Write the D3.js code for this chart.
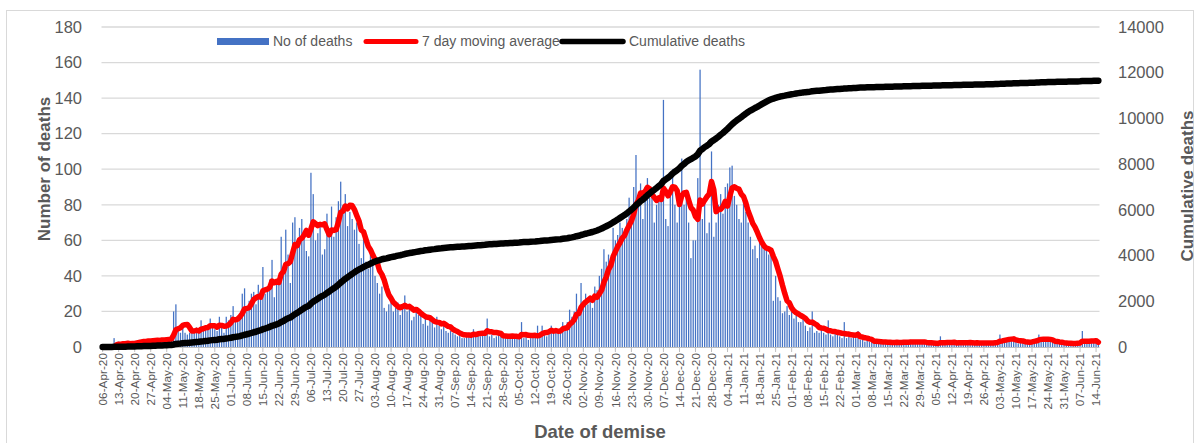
<!DOCTYPE html>
<html>
<head>
<meta charset="utf-8">
<script src="https://cdn.jsdelivr.net/npm/d3@7"></script>
<style>
  body { margin: 0; background: #fff; }
  text { font-family: "Liberation Sans", Arial, sans-serif; fill: #595959; }
</style>
</head>
<body>
<script>
  var w = 1199; //svg width
  var h = 443; //svg height

  //DATA
  var firstDay = new Date(2020, 3, 6); //06-Apr-20
  var lastDay = new Date(2021, 5, 15); //15-Jun-21
  var dates = d3.timeDay.range(firstDay, d3.timeDay.offset(lastDay, 1));

  //daily deaths, one line per week (weeks start on Monday)
  var deaths = [
      0, 1, 0, 1, 0, 5, 1,          //06-Apr-20
      3, 1, 2, 1, 2, 3, 2,
      3, 3, 4, 3, 4, 3, 4,
      3, 4, 5, 4, 3, 5, 4,
      4, 5, 6, 20, 24, 9, 8,        //04-May-20
      13, 8, 7, 8, 10, 9, 11,
      10, 15, 9, 12, 11, 16, 11,
      10, 9, 17, 11, 8, 17, 15,
      18, 23, 15, 14, 17, 30, 33,   //01-Jun-20
      20, 26, 30, 31, 24, 35, 30,
      45, 30, 33, 38, 49, 28, 36,
      40, 62, 44, 66, 52, 36, 70,
      73, 58, 67, 72, 65, 54, 51,   //29-Jun-20
      98, 86, 60, 64, 70, 52, 55,
      75, 66, 79, 62, 73, 82, 93,
      80, 86, 68, 76, 72, 66, 70,
      58, 50, 61, 48, 44, 52, 50,   //27-Jul-20
      40, 36, 30, 34, 22, 20, 24,
      26, 20, 22, 25, 18, 24, 29,
      20, 22, 15, 17, 21, 18, 20,
      13, 16, 12, 15, 14, 11, 17,   //24-Aug-20
      12, 10, 14, 9, 8, 9, 8,
      7, 6, 8, 5, 5, 8, 8,
      6, 10, 7, 8, 6, 9, 8,
      16, 6, 7, 5, 6, 7, 6,         //21-Sep-20
      7, 5, 6, 5, 7, 6, 6,
      5, 14, 5, 6, 4, 5, 6,
      6, 12, 7, 12, 8, 6, 9,
      12, 8, 10, 9, 9, 14, 12,      //19-Oct-20
      14, 21, 17, 20, 30, 18, 36,
      26, 30, 24, 28, 22, 34, 32,
      40, 44, 55, 48, 52, 50, 67,
      60, 63, 70, 67, 62, 72, 84,   //16-Nov-20
      78, 90, 108, 82, 92, 72, 90,
      95, 84, 86, 70, 80, 82, 84,
      139, 72, 68, 86, 100, 80, 70,
      85, 106, 80, 88, 70, 50, 60,  //14-Dec-20
      60, 95, 156, 72, 85, 64, 70,
      110, 62, 70, 80, 86, 75, 90,
      92, 101, 102, 85, 80, 72, 70,
      82, 76, 70, 62, 55, 57, 50,   //11-Jan-21
      60, 58, 55, 54, 52, 52, 26,
      40, 28, 26, 19, 20, 23, 18,
      20, 16, 19, 14, 14, 18, 12,
      9, 11, 20, 8, 9, 8, 10,       //08-Feb-21
      8, 7, 15, 7, 6, 8, 7,
      6, 5, 14, 5, 6, 5, 6,
      5, 9, 4, 4, 3, 4, 3,
      3, 2, 4, 3, 2, 3, 3,          //08-Mar-21
      2, 2, 3, 3, 3, 2, 3,
      3, 2, 3, 4, 3, 2, 3,
      3, 2, 3, 2, 2, 2, 2,
      2, 1, 6, 2, 2, 3, 2,          //05-Apr-21
      2, 2, 3, 3, 2, 3, 2,
      2, 3, 2, 2, 3, 2, 2,
      2, 3, 2, 2, 3, 3, 3,
      7, 4, 4, 4, 5, 4, 4,          //03-May-21
      3, 2, 3, 3, 2, 3, 3,
      4, 4, 5, 7, 4, 4, 3,
      4, 3, 3, 2, 3, 2, 2,
      2, 2, 2, 2, 2, 2, 3,          //31-May-21
      3, 9, 2, 2, 2, 3, 3,
      4, 3
  ];

  var leftTicks = [0, 20, 40, 60, 80, 100, 120, 140, 160, 180];
  var rightTicks = [0, 2000, 4000, 6000, 8000, 10000, 12000, 14000];
  var seriesNames = ["No of deaths", "7 day moving average", "Cumulative deaths"];
  var labelEvery = 7; //one date label per week

  //derived series
  var movingAvg = deaths.map(function(d, i) {
      return i < 6 ? null : d3.mean(deaths.slice(i - 6, i + 1));
  });
  var cumulative = Array.from(d3.cumsum(deaths));

  var fmt = d3.timeFormat("%d-%b-%y");

  //SCALES
  var x = d3.scaleBand()
      .domain(d3.range(dates.length))
      .range([101.5, 1099.5])
      .paddingInner(0.45)
      .paddingOuter(0.225);

  var xc = function(i) { return x(i) + x.bandwidth() / 2; };

  var yL = d3.scaleLinear().domain([0, 180]).range([347, 27]);
  var yR = d3.scaleLinear().domain([0, 14000]).range([347, 27]);

  var svg = d3.select("body")
      .append("svg")
      .attr("width", w)
      .attr("height", h);

  //chart frame
  svg.append("rect")
      .attr("x", 6.5).attr("y", 10.5)
      .attr("width", 1187).attr("height", 440)
      .attr("fill", "none")
      .attr("stroke", "#d9d9d9");

  //GRIDLINES
  svg.append("g")
      .selectAll("line")
      .data(leftTicks.slice(1))
      .enter()
      .append("line")
      .attr("x1", 101.5).attr("x2", 1099.5)
      .attr("y1", function(d) { return yL(d); })
      .attr("y2", function(d) { return yL(d); })
      .attr("stroke", "#d9d9d9")
      .attr("stroke-width", 1.3);

  //BARS
  svg.append("g")
      .selectAll("rect")
      .data(deaths)
      .enter()
      .append("rect")
      .attr("x", function(d, i) { return x(i); })
      .attr("y", function(d) { return yL(d); })
      .attr("width", x.bandwidth())
      .attr("height", function(d) { return yL(0) - yL(d); })
      .attr("fill", "#4472c4");

  //X AXIS
  var tickIdx = d3.range(0, dates.length, labelEvery).filter(function(i) { return i < dates.length - 1; });

  svg.append("line")
      .attr("x1", 101.5).attr("x2", 1099.5)
      .attr("y1", 347.5).attr("y2", 347.5)
      .attr("stroke", "#bfbfbf");

  svg.append("g")
      .selectAll("line")
      .data(tickIdx)
      .enter()
      .append("line")
      .attr("x1", function(i) { return xc(i); })
      .attr("x2", function(i) { return xc(i); })
      .attr("y1", 347).attr("y2", 352)
      .attr("stroke", "#bfbfbf");

  svg.append("g")
      .selectAll("text")
      .data(tickIdx)
      .enter()
      .append("text")
      .attr("transform", function(i) { return "translate(" + xc(i) + ",353) rotate(-90)"; })
      .attr("text-anchor", "end")
      .attr("dy", "0.35em")
      .style("font-size", "11.8px")
      .text(function(i) { return fmt(dates[i]); });

  //Y AXES LABELS
  svg.append("g")
      .selectAll("text")
      .data(leftTicks)
      .enter()
      .append("text")
      .attr("x", 82)
      .attr("y", function(d) { return yL(d); })
      .attr("dy", "0.35em")
      .attr("text-anchor", "end")
      .style("font-size", "16.5px")
      .text(function(d) { return d; });

  svg.append("g")
      .selectAll("text")
      .data(rightTicks)
      .enter()
      .append("text")
      .attr("x", 1118)
      .attr("y", function(d) { return yR(d); })
      .attr("dy", "0.35em")
      .attr("text-anchor", "start")
      .style("font-size", "16.5px")
      .text(function(d) { return d; });

  //LINES
  var maLine = d3.line()
      .defined(function(d) { return d !== null; })
      .x(function(d, i) { return xc(i); })
      .y(function(d) { return yL(d); });

  svg.append("path")
      .datum(movingAvg)
      .attr("d", maLine)
      .attr("fill", "none")
      .attr("stroke", "#ff0000")
      .attr("stroke-width", 5.5)
      .attr("stroke-linejoin", "round")
      .attr("stroke-linecap", "round");

  var cumLine = d3.line()
      .x(function(d, i) { return xc(i); })
      .y(function(d) { return yR(d); });

  svg.append("path")
      .datum(cumulative)
      .attr("d", cumLine)
      .attr("fill", "none")
      .attr("stroke", "#000")
      .attr("stroke-width", 6.5)
      .attr("stroke-linejoin", "round")
      .attr("stroke-linecap", "round");

  //AXIS TITLES
  svg.append("text")
      .attr("transform", "translate(50,169) rotate(-90)")
      .attr("text-anchor", "middle")
      .style("font-size", "17px")
      .style("font-weight", "bold")
      .text("Number of deaths");

  svg.append("text")
      .attr("transform", "translate(1193,186) rotate(-90)")
      .attr("text-anchor", "middle")
      .style("font-size", "17px")
      .style("font-weight", "bold")
      .text("Cumulative deaths");

  svg.append("text")
      .attr("x", 600).attr("y", 438)
      .attr("text-anchor", "middle")
      .style("font-size", "18.5px")
      .style("font-weight", "bold")
      .text("Date of demise");

  //LEGEND
  var legend = svg.append("g");
  legend.append("rect")
      .attr("x", 217).attr("y", 38)
      .attr("width", 52).attr("height", 7)
      .attr("fill", "#4472c4");
  legend.append("line")
      .attr("x1", 366).attr("x2", 416)
      .attr("y1", 41.5).attr("y2", 41.5)
      .attr("stroke", "#ff0000").attr("stroke-width", 5)
      .attr("stroke-linecap", "round");
  legend.append("line")
      .attr("x1", 562).attr("x2", 623)
      .attr("y1", 41.5).attr("y2", 41.5)
      .attr("stroke", "#000").attr("stroke-width", 5.5)
      .attr("stroke-linecap", "round");

  legend.selectAll("text")
      .data(seriesNames)
      .enter()
      .append("text")
      .attr("x", function(d, i) { return [273, 422, 629][i]; })
      .attr("y", 41.5)
      .attr("dy", "0.35em")
      .style("font-size", "14px")
      .text(function(d) { return d; });
</script>
</body>
</html>
